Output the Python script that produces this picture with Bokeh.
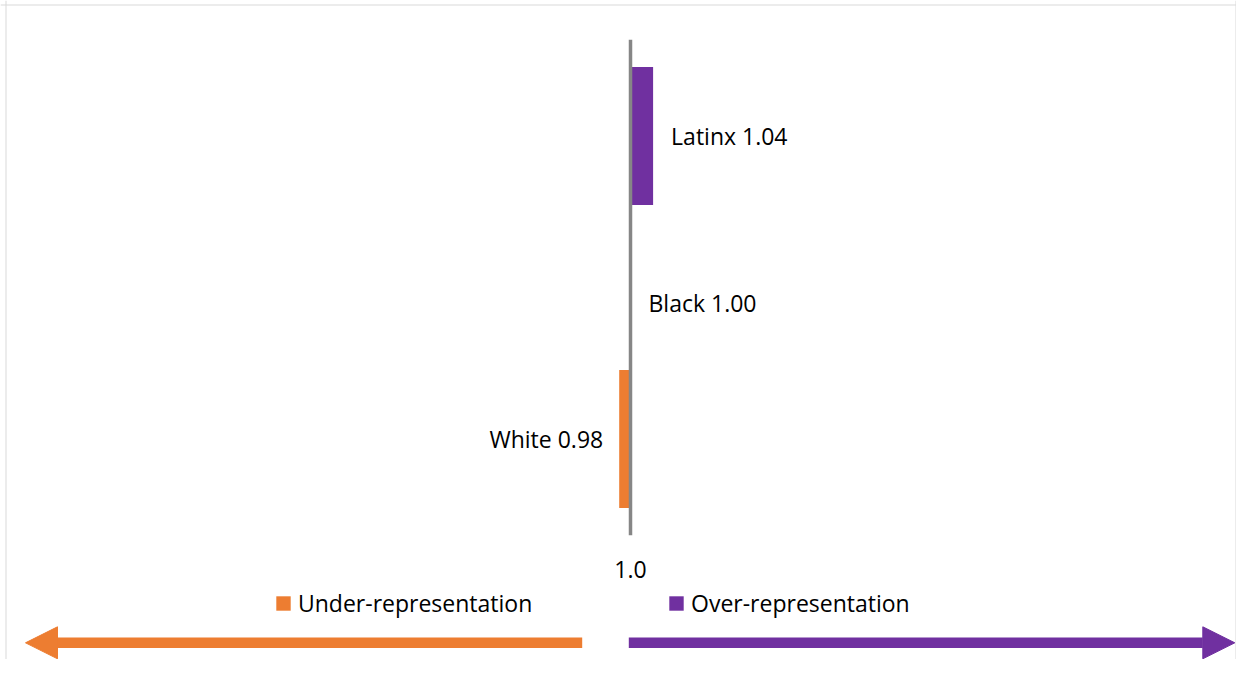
from bokeh.plotting import figure
from bokeh.models import (ColumnDataSource, Arrow, NormalHead, Legend, LegendItem,
                          Span, Range1d)
from bokeh.core.properties import value
from bokeh.embed import file_html
from bokeh.resources import INLINE

# ---------------- data ----------------
categories = ["White", "Black", "Latinx"]          # bottom -> top
ratios = [0.98, 1.00, 1.04]
baseline = 1.0
baseline_label = "1.0"
legend_labels = ["Under-representation", "Over-representation"]

# ---------------- style ----------------
ORANGE = "#ED7D31"
PURPLE = "#7030A0"
AXIS_GRAY = "#868686"
BORDER_GRAY = "#D9D9D9"
FONT = "Open Sans"
FS = "23px"

W, H = 1236, 659
PX_PER_UNIT = 565.0      # horizontal scale
PX_PER_CAT = 151.5       # vertical spacing between categories
X0_PX = 630.0            # canvas x of the baseline
TOP_CAT_PX = 135.5       # canvas y of the top category centre
BAR_H = 0.91
AXIS_HALF = 0.636

n = len(categories)
x_start = baseline - X0_PX / PX_PER_UNIT
x_end = x_start + W / PX_PER_UNIT
y_top = (n - 1) + TOP_CAT_PX / PX_PER_CAT
y_bot = y_top - H / PX_PER_CAT

p = figure(width=W, height=H, output_backend="svg", toolbar_location=None,
           x_range=Range1d(x_start, x_end), y_range=Range1d(y_bot, y_top),
           x_axis_location=None, y_axis_location=None, min_border=0,
           outline_line_color=None, background_fill_color="white",
           border_fill_color="white")
p.grid.visible = False

idx = list(range(n))
under = dict(y=[i for i in idx if ratios[i] < baseline],
             right=[r for r in ratios if r < baseline])
over = dict(y=[i for i in idx if ratios[i] >= baseline],
            right=[r for r in ratios if r >= baseline])

r_under = p.hbar(y="y", left=baseline, right="right", height=BAR_H,
                 source=ColumnDataSource(under), fill_color=ORANGE, line_color=None)
r_over = p.hbar(y="y", left=baseline, right="right", height=BAR_H,
                source=ColumnDataSource(over), fill_color=PURPLE, line_color=None)

# vertical axis line at the baseline
p.segment(x0=[baseline], y0=[-AXIS_HALF], x1=[baseline], y1=[n - 1 + AXIS_HALF],
          line_color=AXIS_GRAY, line_width=3.5)

# data labels
left_lab = dict(x=[], y=[], text=[], yo=[])
right_lab = dict(x=[], y=[], text=[], yo=[])
for i, (c, v) in enumerate(zip(categories, ratios)):
    t = f"{c} {v:.2f}"
    if v < baseline:
        right_lab["x"].append(v); right_lab["y"].append(i)
        right_lab["text"].append(t); right_lab["yo"].append(0)
    else:
        left_lab["x"].append(v); left_lab["y"].append(i)
        left_lab["text"].append(t); left_lab["yo"].append(15 if v == baseline else 0)

p.text(x="x", y="y", text="text", y_offset="yo", source=ColumnDataSource(left_lab),
       x_offset=18, text_align="left", text_baseline="middle",
       text_font=value(FONT), text_font_size=FS, text_color="black")
p.text(x="x", y="y", text="text", y_offset="yo", source=ColumnDataSource(right_lab),
       x_offset=-16, text_align="right", text_baseline="middle",
       text_font=value(FONT), text_font_size=FS, text_color="black")

# baseline tick label
p.text(x=[baseline], y=[-AXIS_HALF], text=[baseline_label], y_offset=34,
       text_align="center", text_baseline="middle",
       text_font=value(FONT), text_font_size=FS, text_color="black")

# legends
def make_legend(label, rend, loc):
    lg = Legend(items=[LegendItem(label=label, renderers=[rend])], location=loc,
                orientation="horizontal", padding=0, margin=0, spacing=0,
                glyph_width=18, glyph_height=18, label_standoff=6,
                label_text_font=FONT, label_text_font_size=FS,
                label_text_color="black", border_line_color=None,
                background_fill_alpha=0)
    return lg

p.add_layout(make_legend(legend_labels[0], r_under, (274, 40)))
p.add_layout(make_legend(legend_labels[1], r_over, (667, 40)))

# direction arrows
ARROW_Y = 16.7
p.add_layout(Arrow(end=NormalHead(size=32, fill_color=ORANGE, line_color=ORANGE, line_width=1),
                   x_start=581.7, y_start=ARROW_Y, x_end=25, y_end=ARROW_Y,
                   start_units="screen", end_units="screen",
                   line_color=ORANGE, line_width=10.5))
p.add_layout(Arrow(end=NormalHead(size=32, fill_color=PURPLE, line_color=PURPLE, line_width=1),
                   x_start=628.3, y_start=ARROW_Y, x_end=1234.3, y_end=ARROW_Y,
                   start_units="screen", end_units="screen",
                   line_color=PURPLE, line_width=10.5))

# chart border (left, top, right)
p.add_layout(Span(location=5.5, dimension="height", location_units="screen",
                  line_color=BORDER_GRAY, line_width=1))
p.add_layout(Span(location=W - 0.5, dimension="height", location_units="screen",
                  line_color=BORDER_GRAY, line_width=1))
p.add_layout(Span(location=H - 4.5, dimension="width", location_units="screen",
                  line_color=BORDER_GRAY, line_width=1))

open("out.html", "w").write(file_html(p, INLINE))
